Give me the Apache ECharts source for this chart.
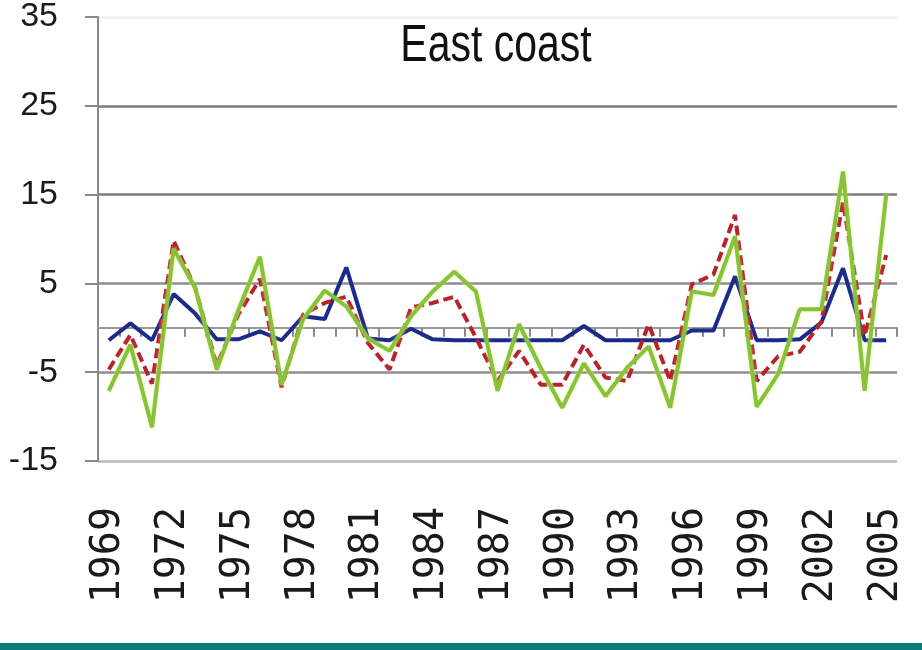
<!DOCTYPE html>
<html>
<head>
<meta charset="utf-8">
<title>East coast</title>
<script src="https://cdn.jsdelivr.net/npm/echarts@6/dist/echarts.min.js"></script>
<style>
  html, body { margin: 0; padding: 0; background: #ffffff; }
  #chart { width: 922px; height: 650px; }
  #band { position: absolute; left: 0; top: 643px; width: 922px; height: 7px; background: #0b7d76; }
</style>
</head>
<body>
<div id="chart"></div>
<div id="band"></div>
<script>
// Years shown on the category axis
const years = [];
for (let y = 1969; y <= 2005; y++) years.push(String(y));

// Annual anomaly series (percent)
const blueSeries = [
  -1.4, 0.5, -1.4, 3.8, 1.6, -1.3, -1.3, -0.4, -1.4, 1.3,
  1.0, 6.8, -1.2, -1.4, -0.1, -1.3, -1.4, -1.4, -1.4, -1.4,
  -1.4, -1.4, 0.2, -1.4, -1.4, -1.4, -1.4, -0.3, -0.3, 5.8,
  -1.4, -1.4, -1.3, 0.6, 6.7, -1.4, -1.4
];
const redSeries = [
  -4.7, -0.8, -6.3, 9.8, 4.5, -4.2, 1.5, 5.5, -6.7, 1.5,
  2.8, 3.5, -1.7, -4.7, 2.3, 2.8, 3.5, -1.1, -6.0, -2.6,
  -6.4, -6.4, -1.9, -5.6, -6.0, 0.4, -6.0, 4.9, 6.0, 12.7,
  -6.0, -3.2, -2.7, 0.7, 14.2, -0.9, 8.2
];
const greenSeries = [
  -7.1, -1.9, -11.2, 8.9, 4.5, -4.7, 2.0, 8.0, -6.4, 1.0,
  4.2, 2.4, -1.2, -2.6, 1.3, 4.1, 6.3, 4.1, -7.1, 0.4,
  -4.5, -9.0, -4.0, -7.7, -4.5, -2.1, -9.0, 4.1, 3.7, 10.3,
  -8.9, -5.2, 2.1, 2.1, 17.6, -7.1, 15.0
];

// Value axis range
const yMin = -15;
const yMax = 35;
const yStep = 10;

const chart = echarts.init(document.getElementById('chart'), null, { renderer: 'canvas' });

chart.setOption({
  animation: false,
  backgroundColor: '#ffffff',
  grid: { left: 98, right: 25, top: 16, bottom: 189, containLabel: false },
  graphic: [{
    // condensed-looking heading: regular face stretched vertically
    type: 'text',
    x: 496, y: 47,
    scaleY: 1.26,
    style: {
      text: 'East coast',
      font: '41px "Liberation Sans", Arial, sans-serif',
      fill: '#111111',
      textAlign: 'center',
      textVerticalAlign: 'middle'
    }
  }],
  xAxis: [
    {
      type: 'category',
      data: years,
      position: 'bottom',
      boundaryGap: true,
      axisLine: { show: false, onZero: false },
      axisTick: { show: false },
      axisLabel: {
        interval: 2,
        rotate: 90,
        margin: 46,
        color: '#1a1a1a',
        fontSize: 40,
        fontFamily: '"DejaVu Sans Mono", monospace'
      },
      splitLine: { show: false }
    },
    {
      // zero line with category tick marks
      type: 'category',
      data: years,
      position: 'top',
      boundaryGap: true,
      axisLine: { show: true, onZero: true, lineStyle: { color: '#9a9a9a', width: 2 } },
      axisTick: { show: true, inside: true, interval: 0, length: 9, lineStyle: { color: '#8a8a8a', width: 2 } },
      axisLabel: { show: false },
      splitLine: { show: false }
    }
  ],
  yAxis: {
    type: 'value',
    min: yMin,
    max: yMax,
    interval: yStep,
    axisLine: { show: true, lineStyle: { color: '#8a8a8a', width: 2 } },
    axisTick: { show: true, length: 13, lineStyle: { color: '#8a8a8a', width: 2 } },
    axisLabel: {
      margin: 40,
      color: '#1a1a1a',
      fontSize: 34,
      fontFamily: '"Liberation Sans", Arial, sans-serif'
    },
    splitLine: {
      show: true,
      lineStyle: {
        color: ['#b8b8b8', '#8e8e8e', '#8e8e8e', '#7c7c7c', '#7c7c7c', '#f2f2f2'],
        width: 2.5
      }
    }
  },
  series: [
    {
      name: 'blue',
      type: 'line',
      data: blueSeries,
      symbol: 'none',
      z: 3,
      lineStyle: { color: '#1c2b8a', width: 4 }
    },
    {
      name: 'red',
      type: 'line',
      data: redSeries,
      symbol: 'none',
      z: 4,
      lineStyle: { color: '#b8232b', width: 4, type: [10, 5] }
    },
    {
      name: 'green',
      type: 'line',
      data: greenSeries,
      symbol: 'none',
      z: 5,
      lineStyle: {
        color: '#86c23a', width: 4,
        shadowColor: 'rgba(225, 240, 120, 0.7)', shadowBlur: 3
      }
    }
  ]
});
</script>
</body>
</html>
